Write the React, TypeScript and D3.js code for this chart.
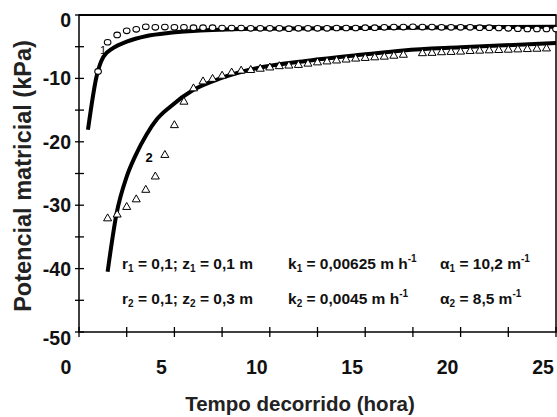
import React from "react"
import * as d3 from "d3"

const circleTimes = [1, 1.5, 2, 2.5, 3, 3.5, 4, 4.5, 5, 5.5, 6, 6.5, 7, 7.5, 8, 8.5, 9, 9.5, 10, 10.5, 11, 11.5, 12, 12.5, 13, 13.5, 14, 14.5, 15, 15.5, 16, 16.5, 17, 17.5, 18, 18.5, 19, 19.5, 20, 20.5, 21, 21.5, 22, 22.5, 23, 23.5, 24, 24.5, 25]
const circleValues = [-8.9, -4.3, -3.15, -2.5, -2.26, -1.85, -1.95, -1.9, -1.95, -1.95, -2.0, -2.0, -2.0, -2.05, -2.05, -2.05, -2.1, -2.1, -2.1, -2.1, -2.15, -2.1, -2.1, -2.1, -2.1, -2.05, -2.05, -2.05, -2.0, -2.0, -1.95, -1.9, -1.9, -1.85, -1.9, -1.9, -1.95, -1.95, -1.95, -1.95, -2.0, -2.0, -2.05, -2.1, -2.15, -2.2, -2.2, -2.2, -2.2]

const triTimes = [1.5, 2, 2.5, 3, 3.5, 4, 4.5, 5, 5.5, 6, 6.5, 7, 7.5, 8, 8.5, 9, 9.5, 10, 10.5, 11, 11.5, 12, 12.5, 13, 13.5, 14, 14.5, 15, 15.5, 16, 16.5, 17, 18, 18.5, 19, 19.5, 20, 20.5, 21, 21.5, 22, 22.5, 23, 23.5, 24, 24.5]
const triValues = [-32.1, -31.5, -30.3, -29.1, -27.6, -25.5, -22.1, -17.4, -13.7, -11.6, -10.5, -10.1, -9.6, -9.1, -8.8, -8.7, -8.5, -8.3, -8.1, -8.0, -7.9, -7.7, -7.5, -7.35, -7.2, -7.05, -6.9, -6.8, -6.7, -6.6, -6.45, -6.3, -6.05, -6.0, -5.9, -5.85, -5.8, -5.7, -5.65, -5.6, -5.55, -5.5, -5.45, -5.4, -5.35, -5.3]

// fitted curves
const fit1Times = [0.47, 0.92, 1.28, 1.8, 2.5, 3.55, 4.77, 6.35, 9.5, 15, 20, 25]
const fit1Values = [-18.1, -9.7, -6.6, -5.2, -4.2, -3.3, -2.8, -2.45, -2.15, -2.05, -1.95, -1.85]
const fit2Times = [1.5, 1.97, 2.5, 2.94, 3.55, 4.07, 4.77, 6, 7.4, 9, 12, 15, 17, 20, 25]
const fit2Values = [-40.5, -31.3, -25.5, -22.3, -18.8, -16.5, -14.5, -11.8, -10.0, -8.6, -7.2, -6.2, -5.6, -5.1, -4.4]

const xTicks = [0, 5, 10, 15, 20, 25]
const xMinor = [2.5, 7.5, 12.5, 17.5, 22.5]
const yTicks = [0, -10, -20, -30, -40, -50]
const yMinor = [-5, -15, -25, -35, -45]

const font = "'Liberation Sans', Arial, sans-serif"

export default function App() {
  const left = 79, right = 556, top = 15, bottom = 332
  const x = d3.scaleLinear().domain([0, 25]).range([left, right])
  const y = d3.scaleLinear().domain([-50, 0]).range([bottom, top])

  const line = d3.line<[number, number]>()
    .x(d => x(d[0]))
    .y(d => y(d[1]))
    .curve(d3.curveMonotoneX)

  const fit1 = fit1Times.map((t, i) => [t, fit1Values[i]] as [number, number])
  const fit2 = fit2Times.map((t, i) => [t, fit2Values[i]] as [number, number])

  const tri = d3.symbol().type(d3.symbolTriangle).size(28)()

  const yLabelShift = (v: number) => (v === 0 ? 5 : v === -50 ? 6 : 0)

  const sub = { fontSize: 10 }
  return (
    <svg width={557} height={417} style={{ position: "absolute", left: 0, top: 0, background: "#fff" }}
      fontFamily={font}>
      {/* frame */}
      <rect x={left} y={top} width={right - left} height={bottom - top} fill="none" stroke="#000" strokeWidth={1.5} />
      <line x1={left} x2={right} y1={top} y2={top} stroke="#000" strokeWidth={2.2} />

      {/* ticks */}
      {[...xTicks, ...xMinor].map(t => (
        <line key={"xt" + t} x1={x(t)} x2={x(t)} y1={bottom - 5} y2={bottom + 5} stroke="#000" strokeWidth={1.3} />
      ))}
      {[...yTicks, ...yMinor].map(t => (
        <line key={"yt" + t} x1={left - 4} x2={left + 5} y1={y(t)} y2={y(t)} stroke="#000" strokeWidth={1.3} />
      ))}

      {xTicks.map(t => (
        <text key={"xl" + t} x={x(t) - 13} y={374} textAnchor="middle" fontSize={19.5} fontWeight="bold" fill="#111">{t}</text>
      ))}
      {yTicks.map(t => (
        <text key={"yl" + t} x={71} y={y(t) + yLabelShift(t) + 7} textAnchor="end" fontSize={19.5} fontWeight="bold" fill="#111">{t}</text>
      ))}

      <text x={300} y={411} textAnchor="middle" fontSize={20.5} fontWeight="bold" fill="#222">Tempo decorrido (hora)</text>
      <text transform="translate(31,176) rotate(-90)" textAnchor="middle" fontSize={23.5} fontWeight="bold" fill="#222">Potencial matricial (kPa)</text>

      {/* fitted curves */}
      <path d={line(fit1) || ""} fill="none" stroke="#000" strokeWidth={4} />
      <path d={line(fit2) || ""} fill="none" stroke="#000" strokeWidth={4} />

      {/* observations */}
      {circleTimes.map((t, i) => (
        <ellipse key={"c" + i} cx={x(t)} cy={y(circleValues[i])} rx={3.3} ry={2.8} fill="#fff" stroke="#000" strokeWidth={1.1} />
      ))}
      {triTimes.map((t, i) => (
        <path key={"t" + i} d={tri || ""} transform={`translate(${x(t)},${y(triValues[i])})`} fill="#fff" stroke="#000" strokeWidth={1} />
      ))}

      <text x={103} y={54} textAnchor="middle" fontSize={11} fill="#000">1</text>
      <text x={149} y={162} textAnchor="middle" fontSize={13} fontWeight="bold" fill="#000">2</text>

      {/* parameters */}
      <g fontSize={15.5} fontWeight="bold" fill="#111">
        <text x={122} y={269}>r<tspan {...sub} dy={3}>1</tspan><tspan dy={-3}> = 0,1; z</tspan><tspan {...sub} dy={3}>1</tspan><tspan dy={-3}> = 0,1 m</tspan></text>
        <text x={288} y={269}>k<tspan {...sub} dy={3}>1</tspan><tspan dy={-3}> = 0,00625 m h</tspan><tspan {...sub} dy={-7}>-1</tspan></text>
        <text x={440} y={269}>α<tspan {...sub} dy={3}>1</tspan><tspan dy={-3}> = 10,2 m</tspan><tspan {...sub} dy={-7}>-1</tspan></text>
        <text x={122} y={304}>r<tspan {...sub} dy={3}>2</tspan><tspan dy={-3}> = 0,1; z</tspan><tspan {...sub} dy={3}>2</tspan><tspan dy={-3}> = 0,3 m</tspan></text>
        <text x={288} y={304}>k<tspan {...sub} dy={3}>2</tspan><tspan dy={-3}> = 0,0045 m h</tspan><tspan {...sub} dy={-7}>-1</tspan></text>
        <text x={440} y={304}>α<tspan {...sub} dy={3}>2</tspan><tspan dy={-3}> = 8,5 m</tspan><tspan {...sub} dy={-7}>-1</tspan></text>
      </g>
    </svg>
  )
}
